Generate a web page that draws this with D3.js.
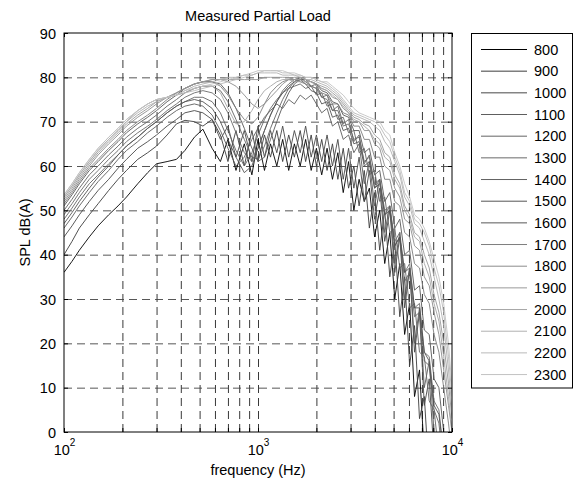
<!DOCTYPE html>
<html>
<head>
<meta charset="utf-8">
<script src="https://cdn.jsdelivr.net/npm/d3@7"></script>
<style>
  html, body { margin: 0; padding: 0; background: #fff; }
  svg { display: block; font-family: "Liberation Sans", Arial, sans-serif; }
</style>
</head>
<body>
<svg id="chart" width="583" height="483"></svg>
<script>
const freqs = [100,110,120,135,150,170,190,210,240,270,300,340,380,420,470,520,580,640,700,770,850,930,1000,1080,1160,1250,1340,1440,1540,1650,1760,1880,2000,2130,2270,2420,2580,2750,2930,3120,3320,3530,3750,3990,4240,4500,4780,5070,5380,5700,6050,6410,6800,7200,7630,8080,8560,9060,9590,10000];

const spl800  = [36,38.5,41,44,46.5,49,51,53,56,58.5, 60.5,61,61.5,63.5,66.5,68.3,64,61,66,59, 65,58,66,59,65,60,66,59,65,60, 66,59,64,58,64,57,63,54,61,50, 57,52,55,44,50,38,45,30,38,22, 29,8,14,-5,-10,-10,-10,-10,-10,-10];
const spl900  = [40,43,46,49,51.5,54.5,57,59,61.5,63, 64.5,67,69.5,70.3,70,69,70.5,67,61,68, 60,68,61,67,62,68,61,67,62,68, 61,67,60,66,59,65,57,64,55,60, 51,59,46,54,41,50,35,43,26,35, 15,24,3,8,-10,-10,-10,-10,-10,-10];
const spl1000 = [44,46.5,49,52,54.5,57,59.5,61.5,64,65.5, 67,69,70.5,72,72.5,72,70.5,66,69,62, 68,61,69,62,68,63,69,62,68,63, 69,62,67,61,67,60,66,57,64,55, 62,52,59,48,55,43,50,36,44,28, 37,18,27,6,12,-5,-10,-10,-10,-10];
const spl1100 = [46,48.5,51,54,56.5,59,61.5,63.5,65.5,67.5, 69,71,72.5,73.5,74,73.5,71.5,68,64,60, 62,66,68.5,71,72.5,74,73,75,74,76, 75,76,74,72,73,69,70,66,67,63, 65,56,61,51,57,45,51,38,45,30, 37,20,28,10,16,0,-5,-10,-10,-10];
const spl1200 = [48,50.5,53,56,58,60.5,62.5,64.5,66.5,68.5, 70,72,73.5,74.5,75.5,75.5,74.5,72,68,63.5, 60,63,67,70.5,73,75,76.5,77.5,78,78.5, 77.5,78,76,76.5,73.5,74,70.5,71,67.5,68, 63,64,58,59,52,53,45,46,37,38, 28,29,18,17,7,5,-5,-10,-10,-10];
const spl1300 = [49,51.5,54,57,59,61.5,63.5,65.5,67.5,69, 70.5,72.5,74,75.5,76.5,77,76.5,75,72,67.5, 63,61,64,68,71.5,74.5,77,78.5,79.5,80, 79,78,77.5,75.5,75,72.5,72.5,69,69.5,66, 66.5,61,62,56,57,50,51,43,45,36, 38,28,29,18,17,7,5,-5,-10,-10];
const spl1400 = [50,52.5,55,58,60,62.5,64.5,66.5,68.5,70, 71.5,73.5,75,76.5,77.5,78,78,77,74.5,70.5, 66,62,61.5,64.5,68.5,72,75,77.5,79,80, 79.5,78,78.5,75.5,76,72.5,73.5,69.5,70.5,65.5, 67,60.5,62.5,55,57,49,51,42,44,34, 36,26,27,16,15,5,2,-8,-10,-10];
const spl1500 = [47,49.5,52,55,57.5,60,62.5,64.5,66.5,68.5, 70,72,73.5,74.5,75,74.5,73,70,66,62, 58.5,60,64,68,71.5,74.5,76.5,78,79,79.5, 78.5,77,76.5,74,74.5,71,71.5,68,68.5,65, 65.5,60,61,55,56,49,50,42,44,36, 37,28,28,18,16,6,4,-5,-10,-10];
const spl1600 = [51,53.5,56,59,61,63.5,65.5,67.5,69.5,71, 72.5,74.5,76,77.5,78.5,79,79,78.5,76.5,73, 68.5,64,61,62,66,70,73.5,76.5,78.5,79.5, 79.5,79,78.5,77,76.5,74.5,74,71.5,71,68, 68,63,64,58,59,52,54,46,48,40, 41,32,33,23,22,12,10,0,-5,-10];
const spl1700 = [51.5,54,56.5,59.5,61.5,64,66,68,70,71.5, 73,75,76.5,77.5,78.5,79,79,78,76,73, 70.5,69.5,71,74,76.5,78,79,79.5,79.5,79, 78.5,78,77.5,76.5,76,74,74,72,71.5,69, 69,66,66,62,62,57,57,52,51,45, 44,38,37,31,29,22,18,10,2,-5];
const spl1800 = [52,54.5,57,60,62.5,65,67,69,71,72.5, 74,75.5,76.5,77.5,78.5,79,79.5,79.5,79,78, 76,74,73,74,75.5,77,78.5,79.5,80,80, 79.5,79,78.5,77.5,77,75.5,75,73,72,70, 70,68,68,65,64,60,59,55,53,48, 47,42,41,35,33,27,22,14,6,0];
const spl1900 = [52.5,55,57.5,60.5,63,65.5,67.5,69.5,71.5,73, 74.5,75.5,76.5,77.5,78.5,79,79.5,79.5,79.5,79.5, 79.5,79.5,79.5,80,80,80,80,80,79.5,79.5, 79,79,78.5,78,77.5,76.5,75.5,74,72.5,71, 70.5,69.5,69,67,66,63,62,58,56,51, 49,45,44,40,37,31,27,20,11,3];
const spl2000 = [53,55.5,58,61,63.5,66,68,70,72.5,74, 75,75.5,76,76.5,77.5,78,78,76.5,73,69.5, 70,72.5,75,77,78,79,79.5,79.5,79,79, 79.5,79,78,77.5,77,76,75,73.5,72,70.5, 70,69,68,66,65,62,61,57,55,50, 48,44,43,38,35,29,25,17,8,0];
const spl2100 = [53,55.5,58,61,63.5,66,68,70,72,73.5, 74.5,75.5,76,77,78,78.5,79,79.5,80,80, 80.5,80.5,81,81,81,81,80.5,80.5,80.5,80, 79.5,79.5,79,78.5,78,77,76,74.5,73,71.5, 71,70.5,70,69,68,65.5,64,61,58,53, 51,47,46,43,40,35,30,24,14,5];
const spl2200 = [53.5,56,58.5,61.5,64,66.5,68.5,70.5,72.5,74, 75,75.5,76,76.5,77,77.5,78,78.5,79,79.5, 80,80.5,81,81.5,81.5,81.5,81,81,80.5,80.5, 80,80,79.5,79,78.5,77.5,76.5,75,73.5,72, 71.5,71,70.5,70,69,67,65.5,62,59,54, 52,48,47,45,42,37,33,27,17,8];
const spl2300 = [53.5,56,58.5,61.5,64,66.5,68.5,70.5,72.5,74, 75,75.5,76,77,77.5,78,78.5,79,79.5,80, 80.5,81,81.5,81.5,81.5,81.5,81.5,81,81,80.5, 80,80,79.5,79,79,78,77,76,74.5,73, 72,71.5,71,70.5,70,68,67,63,60,56, 53,49,48,46,43,39,35,29,20,10];

const rpmLabels = ["800","900","1000","1100","1200","1300","1400","1500","1600","1700","1800","1900","2000","2100","2200","2300"];
const seriesValues = [spl800,spl900,spl1000,spl1100,spl1200,spl1300,spl1400,spl1500,spl1600,spl1700,spl1800,spl1900,spl2000,spl2100,spl2200,spl2300];
const yTicks = [0,10,20,30,40,50,60,70,80,90];
const xMajorExponents = [2,3,4];
const xGridValues = [200,300,400,500,600,700,800,900,1000,2000,3000,4000,5000,6000,7000,8000,9000];
const xMinorTicks = [100,200,300,400,500,600,700,800,900,1000,2000,3000,4000,5000,6000,7000,8000,9000,10000];

const grays = ["#000000","#3c3c3c","#484848","#5e5e5e","#646464","#6a6a6a","#626262","#545454","#585858","#7e7e7e","#8c8c8c","#999999","#a6a6a6","#b0b0b0","#b9b9b9","#c3c3c3"];

const L = 64, R = 452, T = 33, B = 432;
const svg = d3.select("#chart");
const x = d3.scaleLog().domain([100, 10000]).range([L, R]);
const y = d3.scaleLinear().domain([0, 90]).range([B, T]);
const FS = 14.5;

// grid
const grid = svg.append("g");
grid.append("g").attr("transform", `translate(0,${B})`)
  .call(d3.axisBottom(x).tickValues(xGridValues).tickSize(-(B - T)).tickFormat(""))
  .call(g => g.select(".domain").remove())
  .call(g => g.selectAll("line").attr("stroke", "#222").attr("stroke-width", 0.9).attr("stroke-dasharray", "8,5"));
grid.append("g").attr("transform", `translate(${L},0)`)
  .call(d3.axisLeft(y).tickValues(yTicks.filter(v => v > 0 && v < 90)).tickSize(-(R - L)).tickFormat(""))
  .call(g => g.select(".domain").remove())
  .call(g => g.selectAll("line").attr("stroke", "#444").attr("stroke-width", 0.9).attr("stroke-dasharray", "8,5"));

// clip
svg.append("clipPath").attr("id", "plotclip").append("rect")
  .attr("x", L).attr("y", T).attr("width", R - L).attr("height", B - T);

// lines
const line = d3.line().x((d, i) => x(freqs[i])).y(d => y(d));
svg.append("g").attr("clip-path", "url(#plotclip)")
  .selectAll("path").data(seriesValues).join("path")
  .attr("d", d => line(d))
  .attr("fill", "none")
  .attr("stroke", (d, i) => grays[i])
  .attr("stroke-width", 0.9)
  .attr("stroke-linejoin", "round");

// ticks inside on all sides
const tk = 4;
svg.append("g").attr("transform", `translate(0,${B})`)
  .call(d3.axisBottom(x).tickValues(xMinorTicks).tickSize(-tk).tickFormat(""))
  .call(g => g.select(".domain").remove());
svg.append("g").attr("transform", `translate(0,${T})`)
  .call(d3.axisTop(x).tickValues(xMinorTicks).tickSize(-tk).tickFormat(""))
  .call(g => g.select(".domain").remove());
svg.append("g").attr("transform", `translate(${R},0)`)
  .call(d3.axisRight(y).tickValues(yTicks).tickSize(-tk).tickFormat(""))
  .call(g => g.select(".domain").remove());
const yAx = svg.append("g").attr("transform", `translate(${L},0)`)
  .call(d3.axisLeft(y).tickValues(yTicks).tickSize(-tk).tickPadding(8).tickFormat(d3.format("d")))
  .call(g => g.select(".domain").remove());
yAx.selectAll("text").attr("font-size", FS).attr("font-family", "Liberation Sans, Arial, sans-serif").attr("fill", "#000").attr("dy", "0.36em");

// box
svg.append("rect").attr("x", L).attr("y", T).attr("width", R - L).attr("height", B - T)
  .attr("fill", "none").attr("stroke", "#000").attr("stroke-width", 1);

// x tick labels 10^n
const xl = svg.append("g").selectAll("text").data(xMajorExponents).join("text")
  .attr("x", d => x(Math.pow(10, d)) + 0.5)
  .attr("y", 455)
  .attr("text-anchor", "middle")
  .attr("font-size", FS);
xl.append("tspan").text("10");
xl.append("tspan").attr("font-size", 10).attr("dy", -9).text(d => d);

// titles
svg.append("text").attr("x", (L + R) / 2).attr("y", 21).attr("text-anchor", "middle")
  .attr("font-size", FS).text("Measured Partial Load");
svg.append("text").attr("x", (L + R) / 2).attr("y", 475).attr("text-anchor", "middle")
  .attr("font-size", FS).text("frequency (Hz)");
svg.append("text").attr("transform", `translate(30,${(T + B) / 2}) rotate(-90)`)
  .attr("text-anchor", "middle").attr("font-size", FS).text("SPL dB(A)");

// legend
const lg = svg.append("g");
lg.append("rect").attr("x", 471.5).attr("y", 33.5).attr("width", 101).attr("height", 354.5)
  .attr("fill", "#fff").attr("stroke", "#000").attr("stroke-width", 1);
const items = lg.selectAll("g.item").data(rpmLabels).join("g").attr("class", "item")
  .attr("transform", (d, i) => `translate(0,${49.5 + i * 21.67})`);
items.append("line").attr("x1", 481).attr("x2", 527).attr("y1", 0).attr("y2", 0)
  .attr("stroke", (d, i) => grays[i]).attr("stroke-width", 1);
items.append("text").attr("x", 534).attr("y", 0).attr("dy", "0.36em")
  .attr("font-size", FS).text(d => d);
</script>
</body>
</html>
